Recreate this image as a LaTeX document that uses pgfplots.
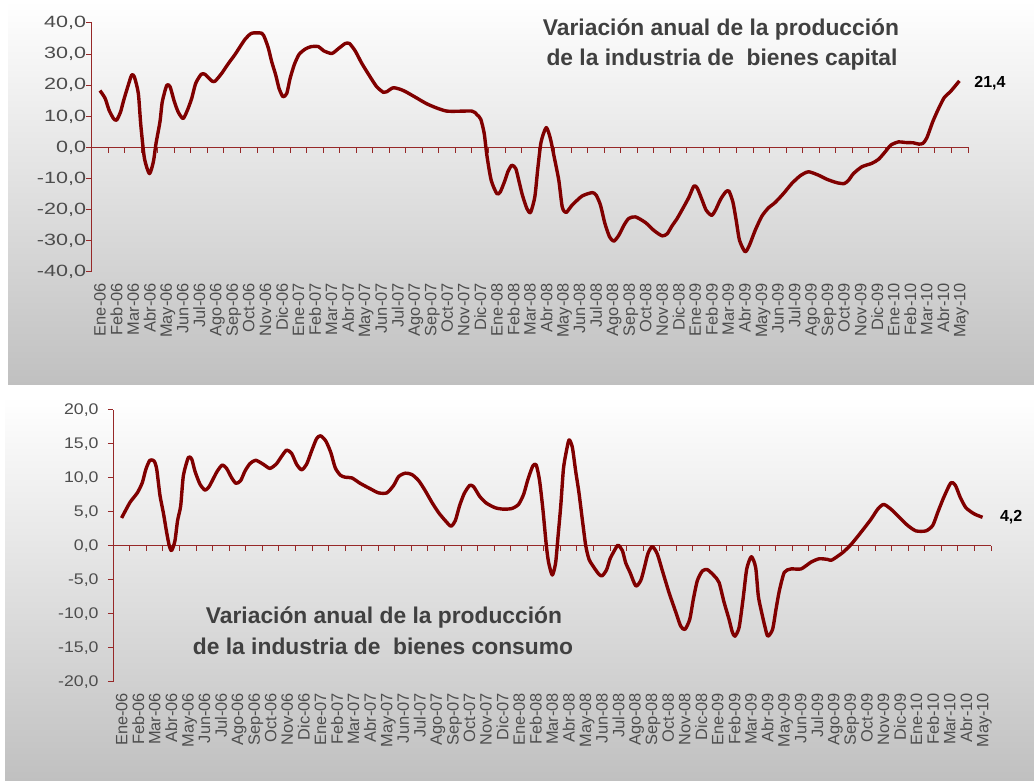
\documentclass[border=0pt]{standalone}
\usepackage{fontspec}
\setmainfont{Liberation Sans}
\newfontfamily\ylabA[FakeStretch=1.32]{Liberation Sans}
\newfontfamily\ylabB[FakeStretch=1.15]{Liberation Sans}
\usepackage{pgfplots}
\usepackage{pgfplotstable}
\pgfplotsset{compat=1.18}
\definecolor{serie}{RGB}{128,0,0}
\definecolor{ejes}{RGB}{150,40,40}
\definecolor{textogris}{RGB}{77,77,77}
\definecolor{titulogris}{RGB}{64,64,64}
\definecolor{fondogris}{RGB}{192,192,192}

% bienes de capital, variacion anual (%)
\pgfplotstableread{
mes val
0.00 18.3
0.31 15.8
0.55 12.0
0.82 9.3
1.01 8.8
1.25 11.5
1.42 14.9
1.68 19.5
1.92 23.3
2.08 22.7
2.32 17.4
2.47 7.2
2.69 -3.5
2.99 -8.4
3.23 -4.6
3.39 1.3
3.63 8.3
3.77 14.7
4.04 20.0
4.24 19.5
4.50 14.7
4.74 11.3
5.03 9.3
5.29 12.0
5.55 15.8
5.79 20.6
6.12 23.5
6.35 23.5
6.76 21.4
6.96 21.3
7.36 23.8
7.77 27.0
8.17 29.9
8.78 34.8
9.18 36.7
9.79 36.7
9.98 35.0
10.19 31.8
10.39 27.5
10.63 23.3
10.83 19.0
11.07 16.3
11.30 17.4
11.50 22.2
11.76 26.7
12.04 29.9
12.41 31.6
12.77 32.4
13.22 32.4
13.52 31.1
14.02 30.2
14.43 31.8
14.83 33.4
15.09 33.4
15.44 31.0
15.84 27.0
16.34 22.7
16.74 19.5
17.15 17.7
17.34 17.9
17.75 19.2
18.35 18.3
19.06 16.2
19.86 13.8
20.97 11.7
22.49 11.7
22.79 10.6
23.03 9.1
23.24 4.5
23.40 -2.5
23.66 -10.5
24.00 -14.8
24.21 -14.3
24.50 -10.5
24.67 -7.8
24.91 -5.7
25.15 -6.8
25.35 -11.0
25.55 -15.3
25.82 -19.6
26.04 -20.9
26.30 -15.9
26.48 -6.8
26.68 1.8
26.99 6.4
27.24 2.9
27.49 -3.5
27.75 -10.5
27.96 -19.1
28.19 -20.9
28.56 -18.5
29.16 -15.6
29.77 -14.5
30.01 -15.3
30.27 -18.5
30.54 -24.4
30.82 -28.7
31.08 -30.1
31.38 -28.2
31.69 -25.0
31.98 -22.8
32.39 -22.3
32.99 -24.1
33.49 -26.6
34.00 -28.4
34.31 -27.7
34.60 -25.2
34.91 -22.8
35.22 -19.9
35.61 -16.1
35.92 -12.4
36.12 -13.0
36.42 -16.9
36.66 -20.1
36.99 -21.8
37.23 -20.1
37.53 -16.7
37.84 -14.3
38.04 -14.0
38.28 -17.5
38.48 -23.4
38.68 -29.8
39.02 -33.5
39.28 -31.4
39.63 -26.6
40.03 -22.1
40.43 -19.4
40.83 -17.7
41.34 -14.8
41.84 -11.6
42.35 -9.1
42.85 -7.8
43.46 -8.9
43.96 -10.2
44.56 -11.3
45.01 -11.6
45.28 -10.5
45.57 -8.4
46.08 -6.2
46.68 -5.1
47.09 -3.8
47.49 -1.4
47.84 0.8
48.30 1.8
48.70 1.6
49.20 1.5
49.51 1.1
49.77 1.3
50.01 3.1
50.37 8.3
50.72 12.5
51.06 16.0
51.46 18.1
51.98 21.4
}\capital

% bienes de consumo, variacion anual (%)
\pgfplotstableread{
mes val
0.00 4.1
0.51 6.4
0.95 7.8
1.25 9.3
1.47 11.3
1.71 12.6
1.96 12.5
2.12 11.3
2.32 7.4
2.52 4.9
2.72 2.0
2.88 0.0
3.02 -0.7
3.22 0.7
3.38 3.7
3.57 5.9
3.73 10.3
4.03 13.0
4.23 12.8
4.43 11.0
4.73 9.1
5.04 8.2
5.28 8.7
5.54 9.9
5.78 11.0
6.08 11.9
6.34 11.4
6.65 10.0
6.91 9.2
7.19 9.6
7.45 11.0
7.75 12.1
8.10 12.6
8.56 12.0
8.96 11.4
9.36 12.1
9.67 13.2
9.97 14.1
10.27 13.6
10.57 12.0
10.87 11.2
11.17 12.0
11.48 14.0
11.78 15.8
12.02 16.2
12.34 15.4
12.64 13.7
12.90 11.5
13.21 10.4
13.51 10.1
13.91 10.0
14.41 9.2
15.02 8.4
15.52 7.8
16.02 7.8
16.43 8.9
16.73 10.2
17.13 10.7
17.53 10.5
17.94 9.6
18.34 8.1
18.74 6.4
19.14 4.9
19.55 3.7
19.89 2.9
20.15 3.7
20.41 5.9
20.69 7.7
21.02 8.9
21.26 8.7
21.62 7.3
22.02 6.3
22.57 5.6
23.07 5.4
23.57 5.5
23.97 6.1
24.28 7.6
24.54 9.8
24.84 11.8
25.04 11.9
25.24 9.6
25.44 5.4
25.65 0.0
25.79 -2.5
26.01 -4.3
26.21 -2.5
26.36 1.5
26.52 5.9
26.68 11.3
26.84 13.7
27.02 15.6
27.22 14.5
27.42 11.0
27.62 7.8
27.82 3.9
28.03 0.0
28.23 -2.0
28.53 -3.2
28.83 -4.2
29.03 -4.4
29.29 -3.5
29.50 -1.9
29.78 -0.6
29.98 0.1
30.24 -0.7
30.44 -2.5
30.70 -3.9
31.05 -5.9
31.35 -5.1
31.55 -3.4
31.79 -1.1
32.05 -0.1
32.35 -1.2
32.66 -3.7
33.06 -6.9
33.40 -9.3
33.76 -11.8
34.02 -12.3
34.31 -10.8
34.53 -7.8
34.77 -5.1
35.07 -3.7
35.37 -3.5
35.78 -4.4
36.08 -5.4
36.38 -8.3
36.68 -10.8
36.88 -12.7
37.04 -13.3
37.29 -12.0
37.53 -7.8
37.75 -3.4
38.03 -1.6
38.29 -3.2
38.45 -7.4
38.65 -9.8
38.84 -11.8
39.02 -13.3
39.31 -12.3
39.52 -9.3
39.72 -6.6
40.02 -3.9
40.42 -3.4
41.03 -3.4
41.63 -2.4
42.13 -1.9
42.64 -2.0
42.88 -2.1
43.54 -1.0
44.05 0.2
44.65 2.0
45.25 3.9
45.66 5.4
46.02 6.1
46.46 5.4
46.96 4.2
47.47 3.0
47.97 2.2
48.57 2.2
48.98 3.0
49.28 4.9
49.64 7.1
50.08 9.3
50.35 8.9
50.65 7.1
50.99 5.6
51.49 4.7
51.99 4.2
}\consumo

\pgfplotsset{
  panel/.style={
    scale only axis, clip=false,
    xmin=-0.5, xmax=52.5,
    axis y line*=left, axis x line*=bottom,
    x axis line style={draw=none},
    y axis line style={draw=ejes, line width=1pt},
    xtick={0,...,52},
    xticklabels={Ene-06,Feb-06,Mar-06,Abr-06,May-06,Jun-06,Jul-06,Ago-06,Sep-06,Oct-06,Nov-06,Dic-06,
      Ene-07,Feb-07,Mar-07,Abr-07,May-07,Jun-07,Jul-07,Ago-07,Sep-07,Oct-07,Nov-07,Dic-07,
      Ene-08,Feb-08,Mar-08,Abr-08,May-08,Jun-08,Jul-08,Ago-08,Sep-08,Oct-08,Nov-08,Dic-08,
      Ene-09,Feb-09,Mar-09,Abr-09,May-09,Jun-09,Jul-09,Ago-09,Sep-09,Oct-09,Nov-09,Dic-09,
      Ene-10,Feb-10,Mar-10,Abr-10,May-10},
    xtick style={draw=none}, xtick align=inside,
    ytick align=outside, major tick length=5.5pt,
    ytick style={draw=ejes, line width=1pt},
    xticklabel style={rotate=90, anchor=east, inner sep=0pt, text depth=0pt,
      font=\fontsize{16.4}{17}\selectfont, text=textogris},
    xticklabel shift=11pt,
  },
  linea/.style={color=serie, line width=3.4pt, smooth, tension=0.4, line join=round, no markers},
}

\begin{document}
\begin{tikzpicture}[x=1pt,y=1pt]
\useasboundingbox (0,0) rectangle (1034,781);
\fill[white] (0,0) rectangle (1034,781);
\shade[top color=white, bottom color=fondogris] (8,396) rectangle (1034,781);
\shade[top color=white, bottom color=fondogris] (5,0) rectangle (1034,384);

% panel superior: bienes de capital
\begin{axis}[panel,
  at={(91.7pt,509pt)}, anchor=south west,
  width=876.3pt, height=249pt,
  ymin=-40, ymax=40,
  ytick={-40,-30,...,40},
  yticklabels={{-40,0},{-30,0},{-20,0},{-10,0},{0,0},{10,0},{20,0},{30,0},{40,0}},
  yticklabel style={font=\ylabA\fontsize{16.3}{17}\selectfont, text=textogris, inner sep=0pt},
]
\draw[ejes, line width=1.2pt] (axis cs:-0.5,0) -- (axis cs:52.5,0);
\pgfplotsinvokeforeach{-0.5,0.5,...,52.5}{\draw[ejes, line width=1pt] (axis cs:#1,0) -- ++(0pt,-5.5pt);}
\addplot[linea] table[x=mes, y=val] {\capital};
\node[anchor=west, font=\bfseries\fontsize{16}{17}\selectfont, xshift=11.5pt, yshift=-2pt] at (axis cs:51.98,21.4) {21,4};
\end{axis}

% panel inferior: bienes de consumo
\begin{axis}[panel,
  at={(113.3pt,99.3pt)}, anchor=south west,
  width=877.7pt, height=271.7pt,
  ymin=-20, ymax=20,
  ytick={-20,-15,...,20},
  yticklabels={{-20,0},{-15,0},{-10,0},{-5,0},{0,0},{5,0},{10,0},{15,0},{20,0}},
  yticklabel style={font=\ylabB\fontsize{15.4}{16}\selectfont, text=textogris, inner sep=0pt},
  yticklabel shift=9pt,
]
\draw[ejes, line width=1.2pt] (axis cs:-0.5,0) -- (axis cs:52.5,0);
\pgfplotsinvokeforeach{-0.5,0.5,...,52.5}{\draw[ejes, line width=1pt] (axis cs:#1,0) -- ++(0pt,-5.5pt);}
\addplot[linea] table[x=mes, y=val] {\consumo};
\node[anchor=west, font=\bfseries\fontsize{16}{17}\selectfont, xshift=14pt] at (axis cs:51.99,4.2) {4,2};
\end{axis}

% titulos
\node[anchor=base, font=\bfseries\fontsize{22.8}{26}\selectfont, text=titulogris] at (721,745) {Variación anual de la producción};
\node[anchor=base, font=\bfseries\fontsize{22.8}{26}\selectfont, text=titulogris] at (722,715.5) {de la industria de~ bienes capital};
\node[anchor=base, font=\bfseries\fontsize{22.8}{26}\selectfont, text=titulogris] at (384,157.7) {Variación anual de la producción};
\node[anchor=base, font=\bfseries\fontsize{22.8}{26}\selectfont, text=titulogris] at (383,126) {de la industria de~ bienes consumo};
\end{tikzpicture}
\end{document}
